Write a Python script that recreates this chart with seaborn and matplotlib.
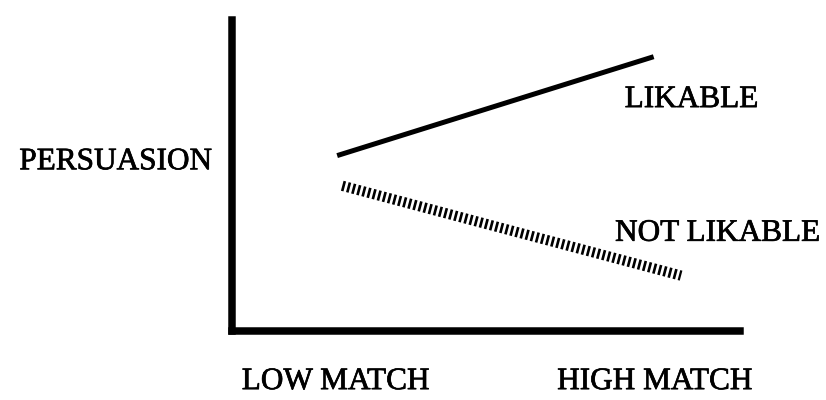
import matplotlib
matplotlib.use("Agg")
import matplotlib.pyplot as plt
import matplotlib.patheffects as pe
import seaborn as sns
import pandas as pd

# ---- data ----
match_levels = ["LOW MATCH", "HIGH MATCH"]
match_tick_pos = [0.204, 0.832]
likable_x = [0.207, 0.83]
likable_y = [5.64, 8.82]
not_likable_x = [0.217, 0.884]
not_likable_y = [4.67, 1.78]
series_names = ["LIKABLE", "NOT LIKABLE"]
y_label = "PERSUASION"

sns.set_theme(style="white")
plt.rcParams["font.family"] = ["Liberation Serif", "DejaVu Serif"]
plt.rcParams["lines.scale_dashes"] = False

fig = plt.figure(figsize=(8.26, 4.0), dpi=100)
W, H = 826, 400
ax = fig.add_axes([232 / W, (H - 331) / H, (740 - 232) / W, (331 - 20) / H])

df_l = pd.DataFrame({"x": likable_x, "y": likable_y})
df_n = pd.DataFrame({"x": not_likable_x, "y": not_likable_y})

sns.lineplot(data=df_l, x="x", y="y", ax=ax, color="black", linewidth=3.6,
             solid_capstyle="butt")
sns.lineplot(data=df_n, x="x", y="y", ax=ax, color="black", linewidth=7.4,
             linestyle=(0, (1.9, 1.9)), dash_capstyle="butt")

ax.set_xlim(0, 1)
ax.set_ylim(0, 10)
ax.set_xlabel("")
ax.set_ylabel("")

for side in ["top", "right"]:
    ax.spines[side].set_visible(False)
for side in ["left", "bottom"]:
    ax.spines[side].set_color("black")
    ax.spines[side].set_linewidth(5.4)
    ax.spines[side].set_capstyle("projecting")

bold_fx = [pe.withStroke(linewidth=0.5, foreground="black")]
ax.set_yticks([])
ax.set_xticks(match_tick_pos)
ax.set_xticklabels(match_levels, fontsize=22.5, color="black")
for lab in ax.get_xticklabels():
    lab.set_path_effects(bold_fx)
ax.tick_params(axis="x", length=0, pad=26)

ax.text(-0.039, 5.2, y_label, ha="right", va="baseline", fontsize=22.5, color="black",
        path_effects=bold_fx)
ax.text(0.773, 7.2, series_names[0], ha="left", va="baseline", fontsize=22.5, color="black",
        path_effects=bold_fx)
ax.text(0.754, 2.9, series_names[1], ha="left", va="baseline", fontsize=22.5, color="black",
        clip_on=False, path_effects=bold_fx)

fig.savefig("out.png", dpi=100, facecolor="white")
